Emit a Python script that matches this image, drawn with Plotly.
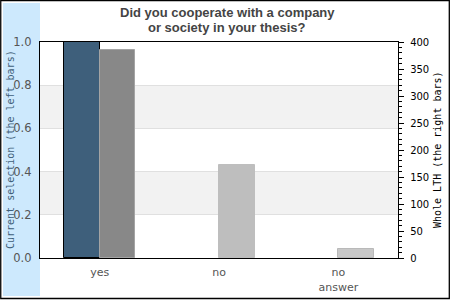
import plotly.graph_objects as go

categories = ["yes", "no", "no<br>answer"]
current_selection = [1.0, 0.0, 0.0]
whole_lth = [385, 172, 17]
right_colors = ["#888888", "#bebebe", "#c8c8c8"]
right_line_colors = ["#a4a4a4", "#bebebe", "#b9b9b9"]
left_ticks = [0.0, 0.2, 0.4, 0.6, 0.8, 1.0]
right_ticks = [0, 50, 100, 150, 200, 250, 300, 350, 400]

L, R, T, B = 40, 52, 42, 42
W, H = 450 - L - R, 300 - T - B

def px(x):
    return (x - L) / W

def py(y):
    return (300 - B - y) / H

fig = go.Figure()
fig.add_trace(go.Bar(
    x=categories, y=current_selection, yaxis="y",
    offset=-0.3, width=0.3,
    marker=dict(color="#3e5f7b",
                line=dict(color="black", width=[1 if v > 0 else 0 for v in current_selection])),
    showlegend=False,
))
fig.add_trace(go.Bar(
    x=categories, y=whole_lth, yaxis="y2",
    offset=0.0, width=0.3,
    marker=dict(color=right_colors, line=dict(color=right_line_colors, width=1)),
    showlegend=False,
))

shapes = [
    # light blue left panel
    dict(type="rect", xref="paper", yref="paper", x0=px(3), x1=px(40), y0=py(296), y1=py(3),
         fillcolor="#cde9fd", line=dict(width=0), layer="below"),
    # bands
    dict(type="rect", xref="paper", yref="y", x0=0, x1=1, y0=0.2, y1=0.4,
         fillcolor="#f2f2f2", line=dict(width=0), layer="below"),
    dict(type="rect", xref="paper", yref="y", x0=0, x1=1, y0=0.6, y1=0.8,
         fillcolor="#f2f2f2", line=dict(width=0), layer="below"),
    # outer border
    dict(type="rect", xref="paper", yref="paper", x0=px(0.75), x1=px(449.3), y0=py(298.5), y1=py(0.5),
         line=dict(color="black", width=1.3), fillcolor="rgba(0,0,0,0)", layer="above"),
]

annotations = [
    dict(text="<b>Did you cooperate with a company</b>", xref="paper", yref="paper",
         x=px(227), y=py(13), showarrow=False, xanchor="center", yanchor="middle",
         font=dict(family="Liberation Sans", size=13, color="#444444")),
    dict(text="<b>or society in your thesis?</b>", xref="paper", yref="paper",
         x=px(227), y=py(27), showarrow=False, xanchor="center", yanchor="middle",
         font=dict(family="Liberation Sans", size=13, color="#444444")),
    dict(text="Current selection (the left bars)", xref="paper", yref="paper",
         x=px(10), y=0.5, showarrow=False, textangle=-90, xanchor="center", yanchor="middle",
         font=dict(family="DejaVu Sans Mono", size=10, color="#3f5f7a")),
    dict(text="Whole LTH (the right bars)", xref="paper", yref="paper",
         x=px(437), y=0.5, showarrow=False, textangle=-90, xanchor="center", yanchor="middle",
         font=dict(family="DejaVu Sans Mono", size=10, color="#000000")),
]

fig.update_layout(
    width=450, height=300,
    margin=dict(l=L, r=R, t=T, b=B, pad=0, autoexpand=False),
    paper_bgcolor="white", plot_bgcolor="rgba(0,0,0,0)",
    barmode="overlay", bargap=0,
    shapes=shapes, annotations=annotations,
    xaxis=dict(
        type="category", showline=True, linecolor="black", linewidth=1.3, mirror=True,
        showgrid=False, ticks="outside", ticklen=4, tickcolor="rgba(0,0,0,0)",
        tickfont=dict(family="DejaVu Sans", size=11, color="#555555"),
        fixedrange=True, automargin=False,
    ),
    yaxis=dict(
        range=[0, 1], tickvals=left_ticks, ticktext=[f"{v:.1f}" for v in left_ticks],
        showline=True, linecolor="black", linewidth=1.3,
        showgrid=True, gridcolor="#e0e0e0", gridwidth=1, zeroline=False,
        ticks="outside", ticklen=5, tickcolor="rgba(0,0,0,0)",
        tickfont=dict(family="DejaVu Sans", size=11.5, color="#555555"),
        automargin=False,
    ),
    yaxis2=dict(
        range=[0, 400], tickvals=right_ticks, overlaying="y", side="right",
        showline=True, linecolor="black", linewidth=1.3, showgrid=False, zeroline=False,
        ticks="outside", ticklen=5, tickcolor="black", ticklabelstandoff=4,
        minor=dict(dtick=10, ticks="outside", ticklen=3, tickcolor="black", showgrid=False),
        tickfont=dict(family="DejaVu Sans", size=10, color="#000000"),
        automargin=False,
    ),
)

fig.write_html("out.html")
